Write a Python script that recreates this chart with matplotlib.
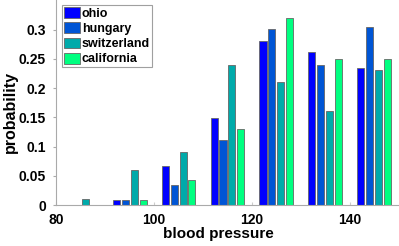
import matplotlib
matplotlib.use("Agg")
import matplotlib.pyplot as plt
import numpy as np

plt.rcParams['font.family'] = ['Liberation Sans', 'DejaVu Sans']
plt.rcParams['font.weight'] = 'bold'

bins = [85, 95, 105, 115, 125, 135, 145]
series = ['ohio', 'hungary', 'switzerland', 'california']
ohio = [0.0, 0.008, 0.067, 0.149, 0.280, 0.261, 0.235]
hungary = [0.0, 0.008, 0.035, 0.112, 0.301, 0.239, 0.305]
switzerland = [0.010, 0.060, 0.090, 0.240, 0.210, 0.161, 0.231]
california = [0.0, 0.009, 0.043, 0.130, 0.319, 0.250, 0.250]
values = [ohio, hungary, switzerland, california]
colors = [(0, 0, 1), (0, 1/3, 5/6), (0, 2/3, 2/3), (0, 1, 0.5)]

fig = plt.figure(figsize=(3.99, 2.46), dpi=100)
ax = fig.add_axes([0.1416, 0.166, 0.857, 0.833])

n = len(series)
spacing = 10
gw = min(0.8, n / (n + 1.5)) * spacing
step = gw / n
bw = 0.8 * step
x = np.array(bins, dtype=float)
for i, (name, v, c) in enumerate(zip(series, values, colors)):
    off = -gw / 2 + step * (i + 0.5)
    ax.bar(x + off, v, width=bw, color=c, edgecolor='#666666', linewidth=0.6, label=name)

ax.set_xlim(80, 150)
ax.set_ylim(0, 0.35)
ax.set_xticks([80, 100, 120, 140])
ax.set_yticks([0, 0.05, 0.1, 0.15, 0.2, 0.25, 0.3])
ax.set_yticklabels(['0', '0.05', '0.1', '0.15', '0.2', '0.25', '0.3'])
for s in ['top', 'right']:
    ax.spines[s].set_visible(False)
for s in ['left', 'bottom']:
    ax.spines[s].set_color('#aaaaaa')
    ax.spines[s].set_linewidth(0.8)
ax.tick_params(axis='y', direction='out', length=2.5, color='#aaaaaa', labelsize=10, pad=5)
ax.tick_params(axis='x', direction='in', length=2.5, color='#cccccc', labelsize=10, pad=6)
for lab in ax.get_xticklabels() + ax.get_yticklabels():
    lab.set_fontweight('bold')
ax.set_xlabel('blood pressure', fontsize=11, fontweight='bold', labelpad=1)
ax.xaxis.set_label_coords(0.472, -0.105)
ax.set_ylabel('probability', fontsize=11.5, fontweight='bold')
ax.yaxis.set_label_coords(-0.114, 0.455)

leg = ax.legend(loc='upper left', bbox_to_anchor=(0.016, 0.975), fontsize=9,
                frameon=True, fancybox=False, borderpad=0.15, labelspacing=0.2,
                handlelength=1.3, handleheight=0.95, handletextpad=0.15, borderaxespad=0)
leg.get_frame().set_edgecolor('#888888')
leg.get_frame().set_linewidth(0.8)
for t in leg.get_texts():
    t.set_fontweight('bold')

fig.savefig('out.png', dpi=100)
